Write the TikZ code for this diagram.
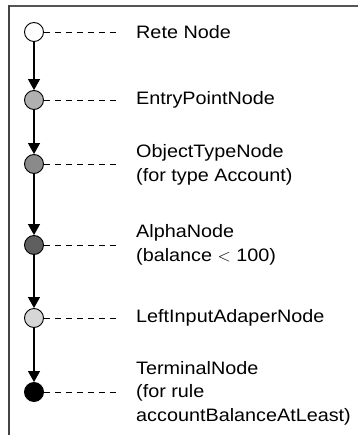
\documentclass[tikz,border=0pt]{standalone}
\usepackage{fontspec}
\usepackage{xcolor}
\usepackage{tikz}
\usetikzlibrary{arrows.meta}
\usetikzlibrary{positioning}

\newfontfamily\labelfont[FakeStretch=1.1]{Liberation Sans}

\definecolor{entrygray}{HTML}{B0B0B0}
\definecolor{objgray}{HTML}{8A8A8A}
\definecolor{alphagray}{HTML}{5F5F5F}
\definecolor{liagray}{HTML}{D6D6D6}
\definecolor{framegray}{HTML}{555555}

\begin{document}
\begin{tikzpicture}[
  x=1pt,y=-1pt,
  rnode/.style={circle,draw,minimum size=19pt,inner sep=0pt,line width=0.9pt},
  rlabel/.style={anchor=west,inner sep=0pt,align=left,
    font=\labelfont\fontsize{18}{23.5}\selectfont},
  flow/.style={line width=1.2pt,-{Triangle[width=12pt,length=11pt]}},
  guide/.style={line width=0.9pt,dash pattern=on 6pt off 5pt}
]
\useasboundingbox (0,0) rectangle (358,435);

% frame
\draw[framegray,line width=2pt] (358,6) -- (9,6);
\draw[framegray!80!black,line width=1.5pt] (9,5) -- (9,435);

% rete nodes
\node[rnode,fill=white] (rete) at (34,32) {};
\node[rnode,fill=entrygray] (entry) at (34,100) {};
\node[rnode,fill=objgray] (otn) at (34,164) {};
\node[rnode,fill=alphagray] (alpha) at (34,245) {};
\node[rnode,fill=liagray] (lia) at (34,318) {};
\node[rnode,fill=black] (term) at (34,392) {};

% labels
\node[rlabel] (reteL) at (136,32) {Rete Node};
\node[rlabel] (entryL) at (136,100) {EntryPointNode};
\node[rlabel] (otnL) at (136,165) {ObjectTypeNode\\(for type Account)};
\node[rlabel] (alphaL) at (136,245) {AlphaNode\\(balance $<$ 100)};
\node[rlabel] (liaL) at (136,318) {LeftInputAdaperNode};
\node[rlabel] (termL) at (136,393) {TerminalNode\\(for rule\\accountBalanceAtLeast)};

% network
\draw[flow] (rete) -- (entry);
\draw[flow] (entry) -- (otn);
\draw[flow] (otn) -- (alpha);
\draw[flow] (alpha) -- (lia);
\draw[flow] (lia) -- (term);

% dashed leaders
\foreach \n in {rete,entry,otn,alpha,lia,term}
  \draw[guide,shorten >=16pt] (\n.east) -- (\n.east -| \n L.west);
\end{tikzpicture}
\end{document}
